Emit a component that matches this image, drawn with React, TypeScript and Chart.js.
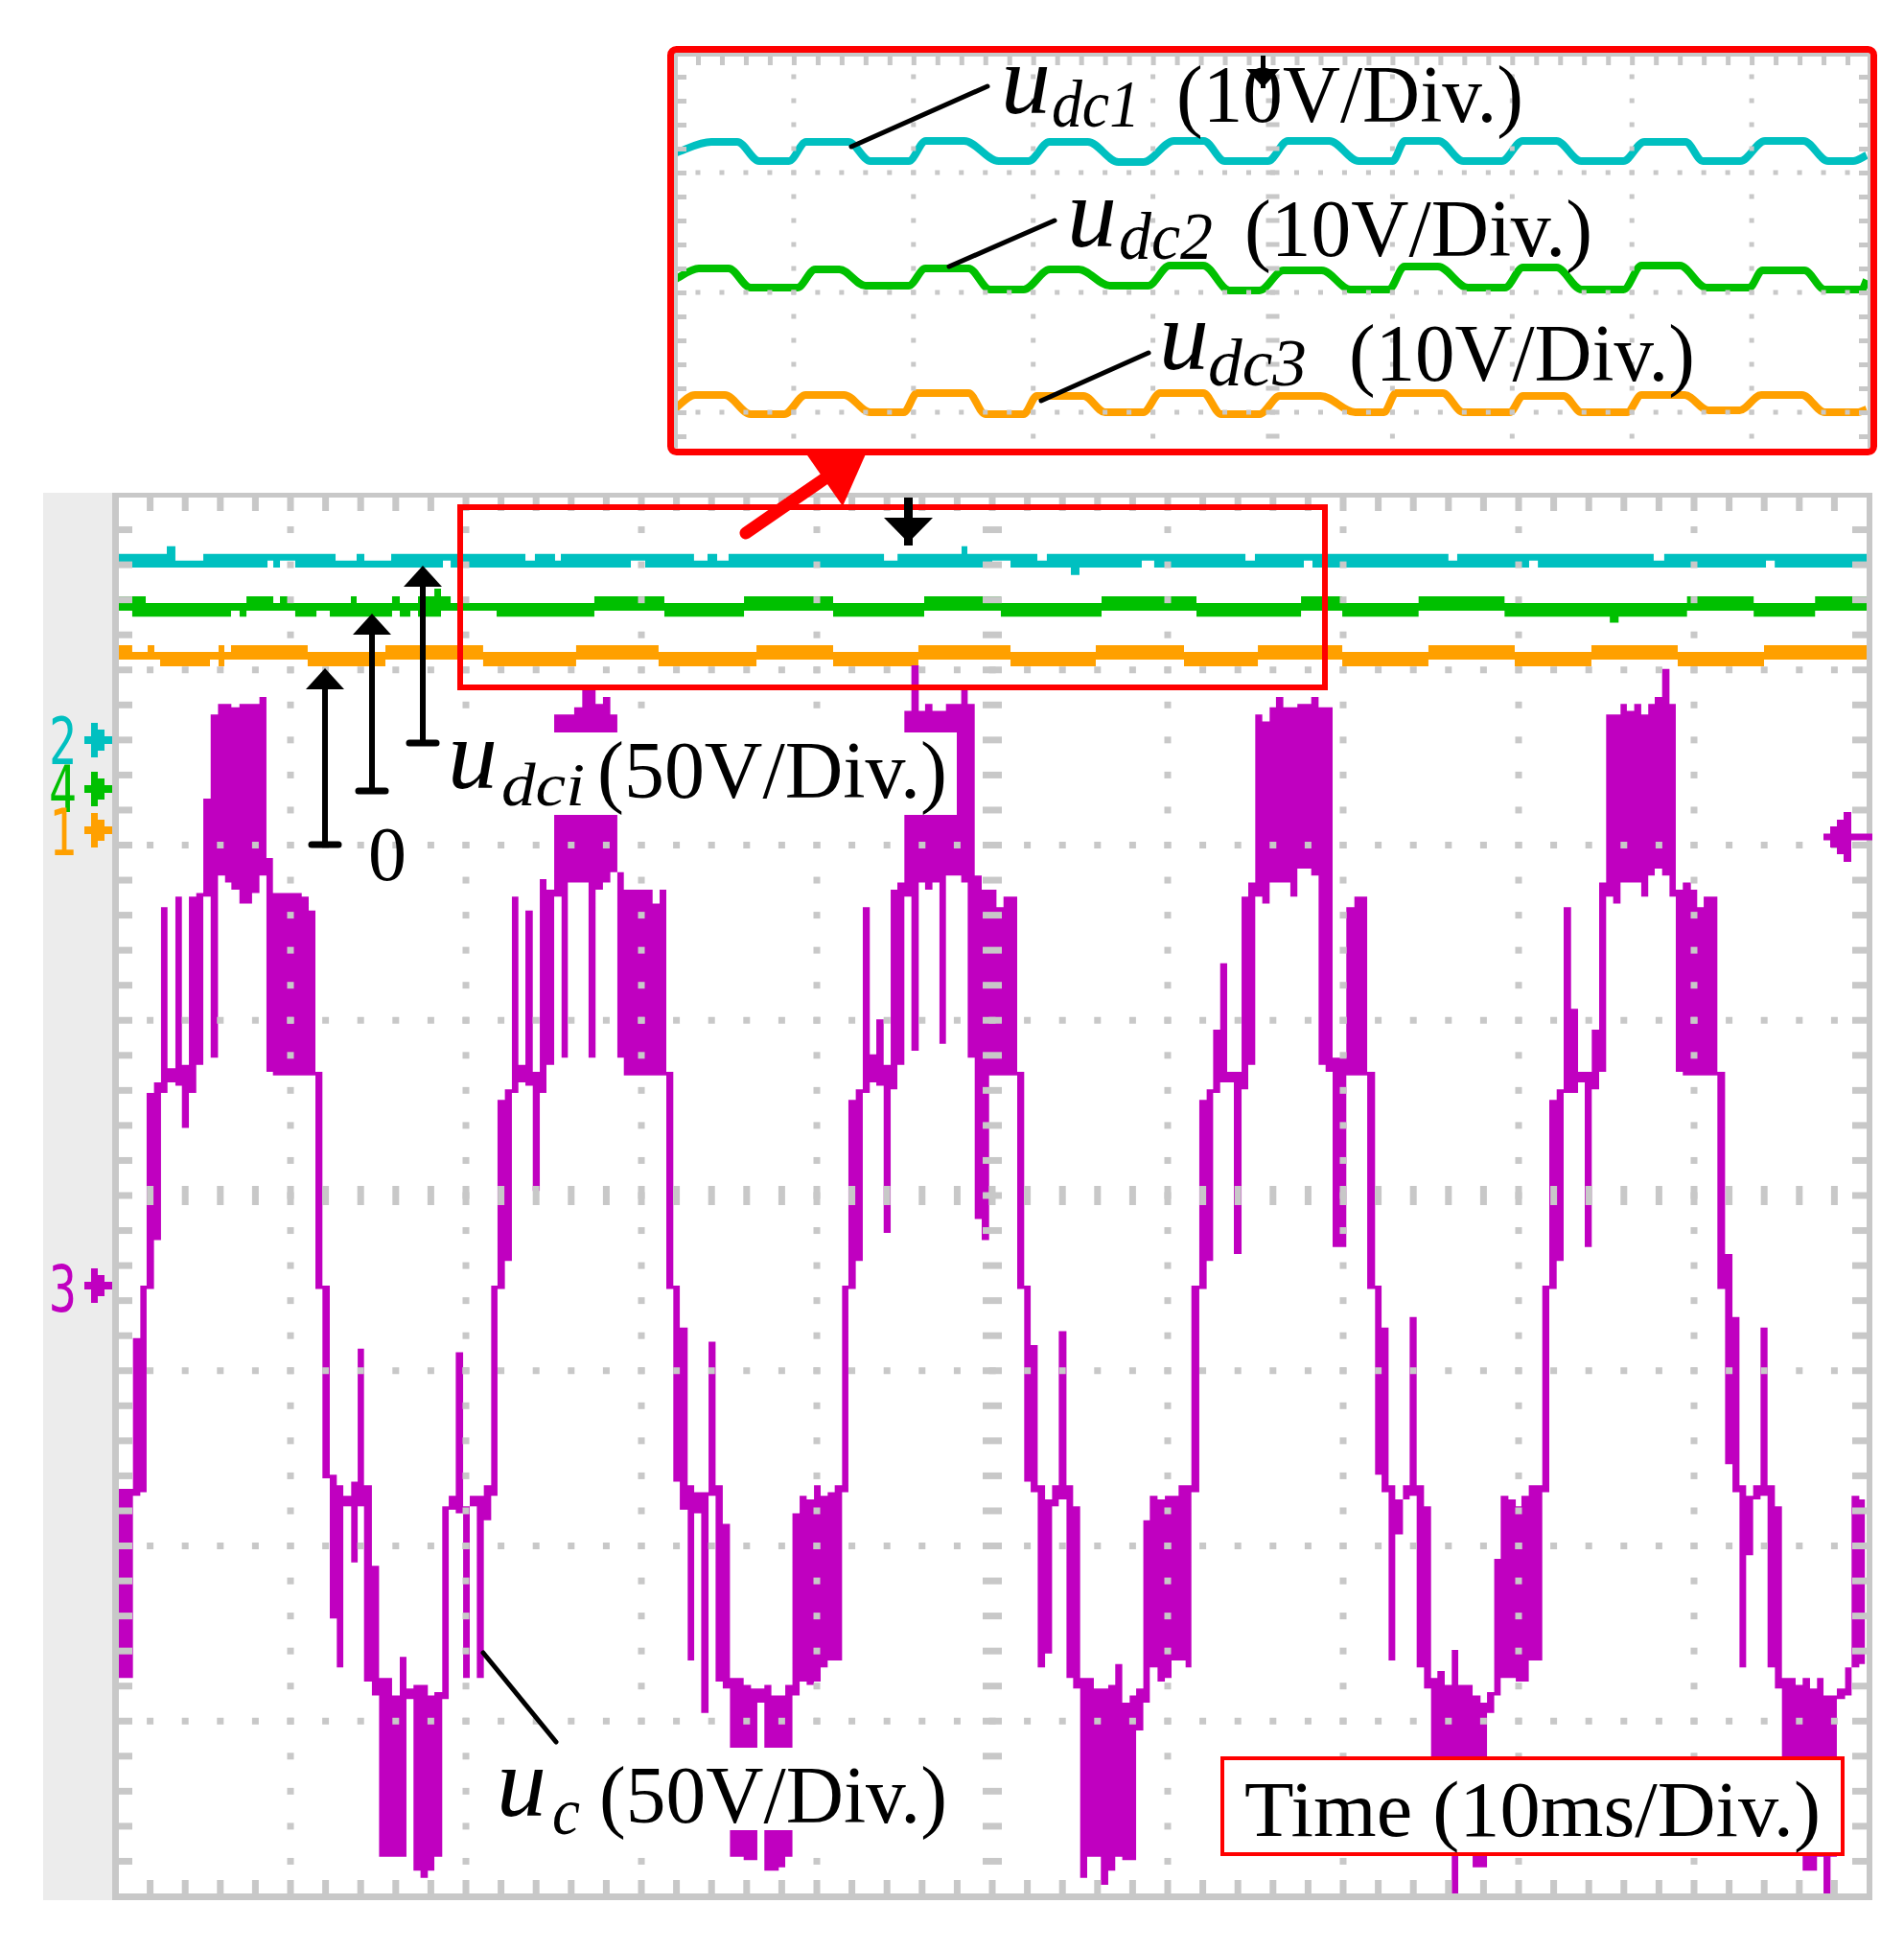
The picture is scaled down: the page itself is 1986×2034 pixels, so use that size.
import React, { useEffect, useRef } from 'react';
import { Chart, registerables } from 'chart.js';

Chart.register(...registerables);

const W = 1986;
const H = 2034;

// ---------------- scope settings ----------------
const MAIN_TIME_MS = [0, 100];
const MAIN_DIV_RANGE = [-4, 4];
const VOLTS_PER_DIV_MAIN = 50;
const GROUND_DIV_UC = -0.514;
const GROUND_DIV_UDC1 = 2.6;
const GROUND_DIV_UDC2 = 2.32;
const GROUND_DIV_UDC3 = 2.085;

const INSET_DIV_RANGE = [-3.3, 0];
const VOLTS_PER_DIV_INSET = 10;
const INSET_REF_V = 52;
const INSET_OFFSET_DIV = [-0.816, -1.88, -2.92];

// ---------------- u_c : [start ms, min V, max V] per displayed column group ----------------
const UC_PERIOD_1 = [
  [0.0, -112, -58], [1.02, -60, -15], [1.44, -59, 0], [1.8, -1, 55], [2.22, 13, 58],
  [2.62, 55, 108], [2.99, 58, 62], [3.44, 57, 111], [3.81, 45, 63], [4.21, 55, 111],
  [4.63, 63, 112], [5.03, 111, 139], [5.45, 65, 163], [5.87, 117, 166], [6.27, 115, 166],
  [6.63, 113, 165], [7.09, 109, 166], [7.81, 112, 166], [8.23, 117, 168], [8.63, 61, 122],
  [9.0, 60, 112], [10.64, 60, 111], [11.04, 60, 107], [11.42, -1, 61], [11.82, -55, 0],
  [12.24, -95, -54], [12.64, -109, -57], [13.01, -63, -60], [13.46, -79, -56], [13.83, -63, -18],
  [14.19, -113, -57], [14.64, -117, -80], [15.05, -163, -112], [15.79, -163, -117], [16.23, -163, -106],
  [16.61, -118, -115], [17.01, -167, -114], [17.41, -169, -114], [17.83, -167, -117], [18.2, -163, -116],
  [18.65, -118, -63], [19.02, -64, -60], [19.42, -65, -19],
];
const UC_PERIOD_2 = [
  [19.84, -112, -63], [20.22, -63, -60], [20.62, -112, -60], [21.02, -67, -57], [21.44, -60, 0],
  [21.8, -1, 53], [22.22, 7, 56], [22.62, 55, 111], [22.99, 58, 63], [23.39, 57, 107],
  [23.81, 27, 61], [24.21, 55, 116], [24.59, 63, 113], [25.03, 111, 163], [25.45, 65, 163],
  [25.81, 115, 163], [26.17, 115, 165], [26.63, 115, 170], [26.99, 65, 170], [27.39, 113, 166],
  [27.81, 115, 168], [28.23, 118, 163], [28.63, 65, 118], [29.0, 60, 113], [30.64, 60, 109],
  [31.04, 60, 113], [31.42, -1, 61], [31.82, -56, 0], [32.19, -64, -12], [32.64, -107, -57],
  [33.01, -65, -59], [33.41, -122, -59], [33.83, -60, -16], [34.23, -113, -57], [34.64, -115, -68],
  [35.05, -163, -112], [35.83, -164, -114], [36.25, -164, -115], [36.61, -119, -115], [37.01, -167, -114],
  [37.41, -167, -117], [37.83, -166, -117], [38.2, -163, -114], [38.61, -117, -65], [39.02, -113, -60],
  [39.42, -114, -61],
];
const UC_PERIOD_3 = [
  [39.84, -113, -57], [40.22, -109, -60], [40.62, -107, -59], [41.02, -107, -57], [41.44, -59, 0],
  [41.8, -1, 53], [42.22, 7, 56], [42.62, 55, 108], [43.02, 58, 66], [43.39, 57, 76],
  [43.81, 15, 63], [44.21, 56, 113], [44.59, 63, 115], [44.99, 111, 164], [45.39, 67, 177],
  [45.81, 115, 164], [46.17, 113, 166], [46.59, 115, 164], [46.99, 69, 164], [47.36, 117, 166],
  [48.23, 115, 170], [48.6, 65, 166], [49.0, 19, 117], [49.4, 13, 113], [49.82, 60, 113],
  [50.24, 60, 108], [50.64, 60, 111], [51.42, -1, 61], [51.82, -56, 0], [52.19, -59, -17],
  [52.59, -109, -57], [53.01, -105, -61], [53.41, -63, -57], [53.79, -61, -13], [54.23, -112, -57],
  [54.61, -115, -63], [55.01, -169, -112], [55.41, -163, -112], [55.79, -163, -115], [56.19, -171, -115],
  [56.61, -167, -114], [57.01, -163, -108], [57.41, -164, -119], [57.83, -164, -117], [58.2, -127, -115],
  [58.61, -119, -67], [58.98, -109, -60], [59.42, -113, -61],
];
const UC_PERIOD_4 = [
  [59.84, -112, -60], [60.22, -107, -60], [60.62, -107, -57], [61.02, -109, -57], [61.35, -59, 0],
  [61.8, -1, 53], [62.22, 7, 56], [62.59, 55, 73], [62.99, 58, 92], [63.39, 58, 61],
  [63.77, 9, 61], [64.21, 56, 111], [64.59, 63, 115], [64.99, 111, 163], [65.39, 109, 161],
  [65.81, 115, 165], [66.17, 115, 168], [66.59, 115, 165], [66.99, 111, 165], [67.39, 119, 166],
  [68.18, 117, 168], [68.6, 63, 165], [69.0, 61, 165], [69.4, 11, 65], [70.18, 60, 108],
  [70.64, 60, 111], [71.37, -1, 61], [71.82, -54, 0], [72.19, -59, -12], [72.59, -107, -57],
  [72.97, -71, -61], [73.41, -61, -57], [73.79, -60, -9], [74.19, -109, -57], [74.61, -115, -63],
  [75.01, -162, -112], [75.37, -162, -110], [75.79, -162, -114], [76.19, -175, -104], [76.56, -162, -114],
  [77.38, -166, -117], [77.83, -166, -119], [78.2, -122, -116], [78.61, -117, -78], [78.98, -112, -60],
  [79.42, -112, -61],
];
const UC_PERIOD_5 = [
  [79.84, -113, -63], [80.16, -113, -60], [80.58, -107, -57], [81.35, -59, 0], [81.75, -1, 53],
  [82.17, 7, 56], [82.57, 55, 108], [82.99, 55, 79], [83.39, 58, 61], [83.77, 11, 61],
  [84.17, 56, 73], [84.59, 61, 115], [84.99, 111, 163], [85.39, 109, 163], [85.81, 115, 166],
  [86.17, 115, 164], [86.59, 115, 166], [86.99, 111, 163], [87.39, 117, 166], [87.76, 119, 168],
  [88.18, 117, 176], [88.6, 111, 166], [88.96, 61, 113], [89.36, 60, 115], [89.82, 60, 113],
  [90.18, 60, 108], [90.55, 60, 111], [91.33, -1, 61], [91.77, -51, 9], [92.19, -59, -9],
  [92.59, -109, -57], [92.97, -77, -60], [93.37, -61, -57], [93.79, -60, -12], [94.19, -109, -57],
  [94.61, -115, -63], [95.01, -162, -112], [95.79, -162, -114], [96.19, -167, -112], [96.61, -167, -115],
  [97.01, -163, -112], [97.38, -175, -117], [97.78, -163, -117], [98.14, -118, -115], [98.61, -117, -109],
  [98.98, -109, -60], [99.42, -108, -61],
];
const UC_END_MS = 99.75;

// ---------------- u_dci in the main screen : [start ms, min V, max V] ----------------
const UDC1_MAIN = [
  [0, 49.2, 53.1], [2.95, 49.2, 55.3], [3.44, 49.2, 51.2], [5.03, 49.2, 53.1], [8.69, 51.2, 53.1],
  [9.02, 49.2, 53.1], [9.4, 51.2, 53.1], [10.27, 49.2, 53.1], [12.57, 49.2, 51.2], [13.77, 49.2, 53.1],
  [14.21, 49.2, 51.2], [15.74, 49.2, 53.1], [18.69, 51.2, 53.1], [19.13, 49.2, 53.1], [23.39, 49.2, 51.2],
  [23.93, 49.2, 53.1], [25.08, 49.2, 51.2], [25.41, 49.2, 53.1], [29.4, 51.2, 53.1], [30.22, 49.2, 53.1],
  [33.0, 49.2, 51.2], [33.77, 49.2, 53.1], [34.32, 49.2, 51.2], [34.97, 49.2, 53.1], [43.83, 49.2, 51.2],
  [44.6, 49.2, 53.1], [48.25, 49.2, 55.3], [48.58, 49.2, 53.1], [50.0, 51.2, 53.1], [51.04, 49.2, 53.1],
  [52.57, 49.2, 51.2], [53.11, 49.2, 53.1], [54.48, 47.1, 53.1], [54.97, 49.2, 53.1], [58.52, 51.2, 53.1],
  [59.23, 49.2, 53.1], [64.43, 49.2, 51.2], [64.97, 49.2, 53.1], [67.76, 51.2, 53.1], [68.25, 49.2, 53.1],
  [76.0, 49.2, 51.2], [76.5, 49.2, 53.1], [80.6, 51.2, 53.1], [81.1, 49.2, 53.1], [87.7, 49.2, 51.2],
  [88.3, 49.2, 53.1], [94.1, 51.2, 53.1], [94.6, 49.2, 53.1],
];
const UDC2_MAIN = [
  [0, 50.9, 55.0], [0.98, 49.2, 55.0], [1.75, 49.2, 53.1], [6.61, 50.9, 53.1], [7.1, 49.2, 53.1],
  [7.49, 50.9, 55.0], [9.02, 50.9, 53.1], [9.4, 50.9, 55.0], [9.84, 50.9, 53.1], [10.27, 49.2, 53.1],
  [11.48, 50.9, 53.1], [12.24, 49.2, 53.1], [13.44, 49.2, 55.0], [13.77, 49.2, 53.1], [15.79, 50.9, 55.0],
  [16.23, 49.2, 53.1], [16.83, 50.9, 53.1], [17.27, 49.2, 55.0], [18.2, 49.2, 57.2], [18.58, 50.9, 55.0],
  [19.13, 50.9, 53.1], [21.75, 49.2, 53.1], [27.32, 50.9, 55.0], [31.31, 49.2, 53.1], [35.85, 50.9, 55.0],
  [40.93, 49.2, 53.1], [46.12, 50.9, 55.0], [50.49, 49.2, 53.1], [56.23, 50.9, 55.0], [61.64, 49.2, 53.1],
  [67.6, 50.9, 55.0], [69.95, 49.2, 53.1], [74.3, 50.9, 55.0], [79.2, 49.2, 53.1], [85.2, 47.5, 53.1],
  [85.7, 49.2, 53.1], [89.6, 50.9, 55.0], [93.4, 49.2, 53.1], [96.9, 50.9, 55.0],
];
const UDC3_MAIN = [
  [0, 48.7, 52.8], [0.98, 48.7, 50.9], [1.86, 48.7, 52.8], [2.24, 48.7, 50.9], [2.57, 46.8, 50.9],
  [5.41, 48.7, 50.9], [5.9, 46.8, 52.8], [6.23, 48.7, 50.9], [6.61, 48.7, 52.8], [10.98, 46.8, 50.9],
  [15.41, 48.7, 52.8], [20.98, 46.8, 50.9], [26.28, 48.7, 52.8], [30.98, 46.8, 50.9], [36.56, 48.7, 52.8],
  [40.93, 46.8, 50.9], [45.79, 48.7, 52.8], [51.04, 46.8, 50.9], [55.9, 48.7, 52.8], [60.93, 46.8, 50.9],
  [65.14, 48.7, 52.8], [69.95, 46.8, 50.9], [74.86, 48.7, 52.8], [79.78, 46.8, 50.9], [84.15, 48.7, 52.8],
  [89.07, 46.8, 50.9], [93.99, 48.7, 52.8],
];

// ---------------- u_dci ripple in the zoomed screen : [ms, V] ----------------
const UDC1_RIPPLE = [
  [0, 51.76], [3.12, 52.72], [5.28, 52.72], [7.12, 51.12], [9.6, 51.12], [11.04, 52.72], [14.56, 52.72],
  [16.4, 51.12], [19.6, 51.12], [21.04, 52.8], [24.24, 52.8], [27.12, 51.12], [29.6, 51.12], [31.36, 52.72],
  [34.56, 52.72], [37.12, 51.04], [39.2, 51.04], [41.76, 52.8], [44.24, 52.8], [46.0, 51.12], [49.6, 51.12],
  [51.28, 52.8], [54.72, 52.8], [57.2, 51.12], [60.0, 51.12], [61.04, 52.8], [63.84, 52.8], [65.92, 51.12],
  [69.12, 51.12], [70.88, 52.8], [73.68, 52.8], [75.76, 51.12], [79.28, 51.12], [81.04, 52.72], [84.48, 52.72],
  [85.92, 51.12], [89.04, 51.12], [91.12, 52.8], [94.32, 52.8], [96.4, 51.12], [98.48, 51.12], [99.6, 51.6],
];
const UDC2_RIPPLE = [
  [0, 51.84], [2.08, 52.8], [4.56, 52.8], [6.4, 51.2], [10.3, 51.2], [11.8, 52.72], [13.8, 52.72],
  [16.0, 51.36], [19.6, 51.36], [21.0, 52.8], [24.6, 52.8], [26.4, 51.04], [29.2, 51.04], [31.4, 52.72],
  [33.8, 52.72], [36.4, 51.36], [39.6, 51.36], [41.4, 53.04], [44.2, 53.04], [46.4, 50.96], [48.9, 50.96],
  [50.9, 52.64], [54.1, 52.64], [56.5, 51.04], [59.7, 51.04], [61.0, 52.96], [63.8, 52.96], [66.3, 51.2],
  [69.4, 51.2], [70.9, 52.88], [73.7, 52.88], [75.8, 51.04], [79.3, 51.04], [80.8, 53.04], [84.0, 53.04],
  [86.2, 51.2], [89.8, 51.2], [90.9, 52.64], [94.4, 52.64], [96.1, 51.04], [99.2, 51.04], [99.6, 51.84],
];
const UDC3_RIPPLE = [
  [0, 51.44], [1.76, 52.64], [4.24, 52.64], [6.4, 51.04], [9.2, 51.04], [11.0, 52.64], [14.2, 52.64],
  [16.4, 51.2], [19.2, 51.2], [20.3, 52.8], [24.6, 52.8], [26.0, 51.04], [29.2, 51.04], [30.3, 52.56],
  [34.2, 52.56], [36.0, 51.2], [39.2, 51.2], [40.6, 52.8], [44.2, 52.8], [45.7, 51.04], [48.9, 51.04],
  [50.6, 52.56], [54.0, 52.56], [56.9, 51.2], [59.3, 51.2], [60.3, 52.8], [64.2, 52.8], [65.9, 51.2],
  [69.8, 51.2], [70.9, 52.56], [74.3, 52.56], [75.8, 51.2], [79.6, 51.2], [80.8, 52.64], [84.4, 52.64],
  [86.4, 51.36], [89.0, 51.36], [90.8, 52.64], [94.2, 52.64], [96.1, 51.2], [98.9, 51.2], [99.6, 51.44],
];

// ---------------- styles ----------------
const CYAN = '#00c0c0';
const GREEN = '#00c000';
const ORANGE = '#ffa000';
const MAGENTA = '#c000c0';
const RED = '#ff0000';
const GRID = '#c8c8c8';
const STRIP = '#ececec';
const SERIF = '"Liberation Serif", "Times New Roman", serif';
const MONO = '"DejaVu Sans Mono", monospace';

function envelope(segs: number[][], end: number, gnd: number, vdiv: number) {
  const hi: { x: number; y: number }[] = [];
  const lo: { x: number; y: number }[] = [];
  for (let i = 0; i < segs.length; i++) {
    const [t0, l, h] = segs[i];
    const t1 = i + 1 < segs.length ? segs[i + 1][0] : end;
    hi.push({ x: t0, y: gnd + h / vdiv }, { x: t1, y: gnd + h / vdiv });
    lo.push({ x: t0, y: gnd + l / vdiv }, { x: t1, y: gnd + l / vdiv });
  }
  return { hi, lo };
}

function bandDatasets(env: any, color: string) {
  return [
    { data: env.hi, fill: '+1', backgroundColor: color, borderColor: 'rgba(0,0,0,0)', borderWidth: 0, pointRadius: 0 },
    { data: env.lo, fill: false, backgroundColor: color, borderColor: 'rgba(0,0,0,0)', borderWidth: 0, pointRadius: 0 },
  ];
}

const mainGridPlugin = {
  id: 'mainGrid',
  beforeDraw(chart: any) {
    const { ctx, chartArea: a } = chart;
    ctx.save();
    ctx.fillStyle = '#ffffff';
    ctx.fillRect(0, 0, chart.width, chart.height);
    ctx.fillStyle = STRIP;
    ctx.fillRect(45, a.top - 2, a.left - 3 - 45, a.bottom - a.top + 6);
    ctx.restore();
  },
  afterDatasetsDraw(chart: any) {
    const { ctx, chartArea: a } = chart;
    const xs = chart.scales.x;
    const ys = chart.scales.y;
    ctx.save();
    ctx.fillStyle = GRID;
    for (let i = 1; i < 10; i++) {
      const px = xs.getPixelForValue(i * 10);
      for (let j = 1; j < 40; j++) {
        const py = ys.getPixelForValue(-4 + j * 0.2);
        if (i === 5) ctx.fillRect(px - 10, py - 3.5, 20, 7);
        else ctx.fillRect(px - 3.5, py - 3.5, 7, 7);
      }
    }
    for (let j = 1; j < 8; j++) {
      const py = ys.getPixelForValue(-4 + j);
      for (let i = 1; i < 50; i++) {
        const px = xs.getPixelForValue(i * 2);
        if (j === 4) ctx.fillRect(px - 3.5, py - 10, 7, 20);
        else ctx.fillRect(px - 3.5, py - 3.5, 7, 7);
      }
    }
    for (let i = 1; i < 50; i++) {
      const px = xs.getPixelForValue(i * 2);
      ctx.fillRect(px - 3.5, a.top, 7, 17);
      ctx.fillRect(px - 3.5, a.bottom - 17, 7, 17);
    }
    for (let j = 1; j < 40; j++) {
      const py = ys.getPixelForValue(-4 + j * 0.2);
      ctx.fillRect(a.left, py - 3.5, 18, 7);
      ctx.fillRect(a.right - 18, py - 3.5, 18, 7);
    }
    ctx.fillRect(a.left - 3, a.top - 2, 7, a.bottom - a.top + 6);
    ctx.fillRect(a.right - 3, a.top - 2, 6, a.bottom - a.top + 6);
    ctx.fillRect(a.left - 3, a.top - 2, a.right - a.left + 6, 5);
    ctx.fillRect(a.left - 3, a.bottom - 3, a.right - a.left + 6, 7);
    ctx.restore();
  },
};

const insetGridPlugin = {
  id: 'insetGrid',
  beforeDraw(chart: any) {
    const { ctx } = chart;
    ctx.save();
    ctx.fillStyle = '#ffffff';
    ctx.fillRect(0, 0, chart.width, chart.height);
    ctx.restore();
  },
  afterDatasetsDraw(chart: any) {
    const { ctx, chartArea: a } = chart;
    const xs = chart.scales.x;
    const ys = chart.scales.y;
    ctx.save();
    ctx.fillStyle = GRID;
    for (let i = 1; i < 10; i++) {
      const px = xs.getPixelForValue(i * 10);
      for (let k = 1; k <= 16; k++) {
        const py = ys.getPixelForValue(-k * 0.2);
        if (i === 5) ctx.fillRect(px - 7, py - 2.5, 14, 5);
        else ctx.fillRect(px - 2.5, py - 2.5, 5, 5);
      }
    }
    for (let j = 1; j <= 3; j++) {
      const py = ys.getPixelForValue(-j);
      for (let i = 1; i < 50; i++) {
        const px = xs.getPixelForValue(i * 2);
        ctx.fillRect(px - 2.5, py - 2.5, 5, 5);
      }
    }
    for (let i = 1; i < 50; i++) {
      const px = xs.getPixelForValue(i * 2);
      ctx.fillRect(px - 2, a.top, 5, 13);
    }
    for (let k = 1; k <= 16; k++) {
      const py = ys.getPixelForValue(-k * 0.2);
      ctx.fillRect(a.left, py - 2, 13, 5);
      ctx.fillRect(a.right - 13, py - 2, 13, 5);
    }
    ctx.fillRect(a.left - 1, a.top, a.right - a.left + 2, 4);
    ctx.fillRect(a.left - 1, a.top, 5, a.bottom - a.top);
    ctx.fillRect(a.right - 4, a.top, 5, a.bottom - a.top);
    ctx.restore();
  },
};

function mainConfig(): any {
  const uc = envelope(
    [...UC_PERIOD_1, ...UC_PERIOD_2, ...UC_PERIOD_3, ...UC_PERIOD_4, ...UC_PERIOD_5],
    UC_END_MS, GROUND_DIV_UC, VOLTS_PER_DIV_MAIN);
  const end = MAIN_TIME_MS[1];
  const d1 = envelope(UDC1_MAIN, end, GROUND_DIV_UDC1, VOLTS_PER_DIV_MAIN);
  const d2 = envelope(UDC2_MAIN, end, GROUND_DIV_UDC2, VOLTS_PER_DIV_MAIN);
  const d3 = envelope(UDC3_MAIN, end, GROUND_DIV_UDC3, VOLTS_PER_DIV_MAIN);
  return {
    type: 'line',
    data: {
      datasets: [
        ...bandDatasets(uc, MAGENTA),
        ...bandDatasets(d1, CYAN),
        ...bandDatasets(d2, GREEN),
        ...bandDatasets(d3, ORANGE),
      ],
    },
    options: {
      animation: false,
      responsive: false,
      maintainAspectRatio: false,
      events: [],
      layout: { padding: { left: 120, top: 516, right: 36, bottom: 56 } },
      elements: { point: { radius: 0 }, line: { tension: 0 } },
      scales: {
        x: { type: 'linear', min: MAIN_TIME_MS[0], max: MAIN_TIME_MS[1], display: false },
        y: { type: 'linear', min: MAIN_DIV_RANGE[0], max: MAIN_DIV_RANGE[1], display: false },
      },
      plugins: { legend: { display: false }, tooltip: { enabled: false }, filler: { propagate: false } },
    },
    plugins: [mainGridPlugin],
  };
}

function insetConfig(): any {
  const series = [UDC1_RIPPLE, UDC2_RIPPLE, UDC3_RIPPLE];
  const colors = [CYAN, GREEN, ORANGE];
  return {
    type: 'line',
    data: {
      datasets: series.map((s, i) => ({
        data: s.map(([t, v]) => ({ x: t, y: INSET_OFFSET_DIV[i] + (v - INSET_REF_V) / VOLTS_PER_DIV_INSET })),
        borderColor: colors[i],
        borderWidth: 8,
        pointRadius: 0,
        fill: false,
        cubicInterpolationMode: 'monotone',
      })),
    },
    options: {
      animation: false,
      responsive: false,
      maintainAspectRatio: false,
      events: [],
      layout: { padding: { left: 7, top: 7, right: 6, bottom: 7.5 } },
      scales: {
        x: { type: 'linear', min: MAIN_TIME_MS[0], max: MAIN_TIME_MS[1], display: false },
        y: { type: 'linear', min: INSET_DIV_RANGE[0], max: INSET_DIV_RANGE[1], display: false },
      },
      plugins: { legend: { display: false }, tooltip: { enabled: false } },
    },
    plugins: [insetGridPlugin],
  };
}

function Sub(props: any) {
  const { x, uY, sx, sy, sub, subW, subSize, px, py, pw, rest } = props;
  return (
    <g fontFamily={SERIF} fill="#000">
      <text x={x} y={uY} fontStyle="italic" fontSize={104}>u</text>
      <text x={sx} y={sy} fontStyle="italic" fontSize={subSize} textLength={subW} lengthAdjust="spacingAndGlyphs">{sub}</text>
      <text x={px} y={py} fontSize={84} textLength={pw} lengthAdjust="spacingAndGlyphs">{rest}</text>
    </g>
  );
}

export default function App() {
  const mainRef = useRef<HTMLCanvasElement>(null);
  const insetRef = useRef<HTMLCanvasElement>(null);

  useEffect(() => {
    document.body.style.margin = '0';
    const main = new Chart(mainRef.current as HTMLCanvasElement, mainConfig());
    const inset = new Chart(insetRef.current as HTMLCanvasElement, insetConfig());
    return () => {
      main.destroy();
      inset.destroy();
    };
  }, []);

  const arrows = [
    [339, 881, 697],
    [388, 825, 640],
    [441, 775, 590],
  ];
  const channelMarks: [string, string, number, number][] = [
    ['2', CYAN, 797, 772],
    ['4', GREEN, 847, 823],
    ['1', ORANGE, 892, 866],
    ['3', MAGENTA, 1368, 1341],
  ];

  return (
    <div style={{ position: 'absolute', left: 0, top: 0, width: W, height: H, background: '#fff', overflow: 'hidden' }}>
      <canvas ref={mainRef} width={W} height={H} style={{ position: 'absolute', left: 0, top: 0, width: W, height: H }} />
      <canvas ref={insetRef} width={1262} height={427} style={{ position: 'absolute', left: 696, top: 48, width: 1262, height: 427 }} />
      <svg width={W} height={H} style={{ position: 'absolute', left: 0, top: 0, pointerEvents: 'none' }}>
        {/* label backgrounds */}
        <rect x={460} y={764} width={538} height={86} fill="#fff" />
        <rect x={510} y={1823} width={480} height={86} fill="#fff" />
        <rect x={1275} y={1834} width={647} height={100} fill="#fff" stroke={RED} strokeWidth={4} />

        {/* red frames */}
        <rect x={480} y={529} width={902} height={188} fill="none" stroke={RED} strokeWidth={6} />
        <rect x={699.5} y={51.5} width={1255} height={420} rx={6} fill="none" stroke={RED} strokeWidth={7} />
        <line x1={778} y1={556} x2={862} y2={498} stroke={RED} strokeWidth={13} strokeLinecap="round" />
        <polygon points="905,469 840,472 879,528" fill={RED} />

        {/* trigger markers */}
        <rect x={943} y={519} width={9} height={50} fill="#000" />
        <polygon points="922,540 973,540 947.5,566" fill="#000" />
        <rect x={1315} y={58} width={5} height={34} fill="#000" />
        <polygon points="1300,72 1335,72 1317.5,91" fill="#000" />

        {/* u_dci level arrows */}
        {arrows.map(([x, yb, yt]) => (
          <g key={x}>
            <line x1={x} y1={yb} x2={x} y2={yt + 18} stroke="#000" strokeWidth={6} />
            <polygon points={`${x},${yt} ${x - 20},${yt + 22} ${x + 20},${yt + 22}`} fill="#000" />
            <line x1={x - 14} y1={yb} x2={x + 14} y2={yb} stroke="#000" strokeWidth={7} strokeLinecap="round" />
          </g>
        ))}

        {/* leader lines */}
        <g stroke="#000" strokeWidth={5} strokeLinecap="round">
          <line x1={1030} y1={90} x2={888} y2={153} />
          <line x1={1100} y1={230} x2={990} y2={278} />
          <line x1={1198} y1={368} x2={1086} y2={418} />
          <line x1={504} y1={1724} x2={580} y2={1817} />
        </g>

        {/* channel ground markers */}
        {channelMarks.map(([label, color, base, c]) => (
          <g key={label} fill={color}>
            <text transform={`translate(51,${base}) scale(1,1.42)`} fontFamily={MONO} fontSize={48}>{label}</text>
            <rect x={88} y={c - 4} width={29} height={8} />
            <rect x={95} y={c - 18} width={7} height={36} />
            <rect x={102} y={c - 11} width={7} height={22} />
          </g>
        ))}
        <g fill={MAGENTA}>
          <rect x={1902} y={869.5} width={7} height={7} />
          <rect x={1909} y={862} width={7} height={22} />
          <rect x={1916} y={855} width={7} height={36} />
          <rect x={1923} y={847} width={8} height={52} />
          <rect x={1931} y={869.5} width={22} height={7} />
        </g>

        {/* texts */}
        <Sub uY={118} x={1044} sx={1097} sy={132} sub="dc1" subW={92} subSize={70} px={1227} py={127} pw={362} rest="(10V/Div.)" />
        <Sub uY={257} x={1113} sx={1167} sy={270} sub="dc2" subW={98} subSize={70} px={1298} py={267} pw={363} rest="(10V/Div.)" />
        <Sub uY={385} x={1209} sx={1260} sy={402} sub="dc3" subW={103} subSize={70} px={1407} py={397} pw={361} rest="(10V/Div.)" />
        <Sub uY={822} x={467} sx={523} sy={840} sub="dci" subW={87} subSize={64} px={623} py={832} pw={365} rest="(50V/Div.)" />
        <Sub uY={1894} x={518} sx={576} sy={1913} sub="c" subW={29} subSize={70} px={625} py={1901} pw={363} rest="(50V/Div.)" />
        <text x={384} y={918} fontFamily={SERIF} fontSize={80} fill="#000">0</text>
        <text x={1298} y={1915} fontFamily={SERIF} fontSize={83} fill="#000" textLength={601} lengthAdjust="spacingAndGlyphs">Time (10ms/Div.)</text>
      </svg>
    </div>
  );
}
